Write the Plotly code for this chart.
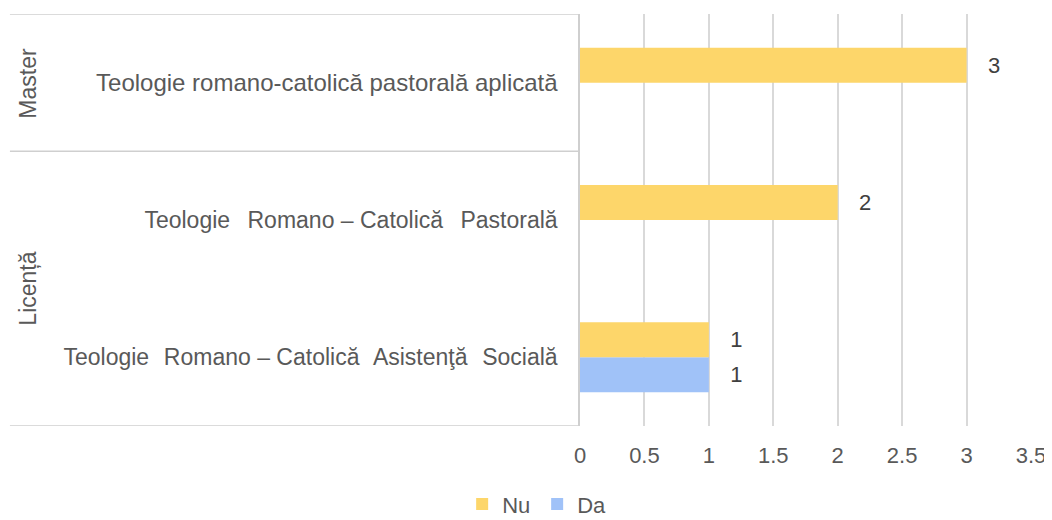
import plotly.graph_objects as go

# categories bottom -> top
programs = [
    "Teologie Romano – Catolică Asistenţă Socială",
    "Teologie Romano – Catolică Pastorală",
    "Teologie romano-catolică pastorală aplicată",
]
# tick texts (justified spacing as in the source chart)
program_labels = [
    "Teologie\u00a0\u200a Romano – Catolică\u00a0\u200a Asistenţă\u00a0\u200a Socială",
    "Teologie\u00a0\u2009 Romano – Catolică\u00a0\u2009 Pastorală",
    "<span style='font-size:24px'>Teologie romano-catolică pastorală aplicată</span>",
]
levels = ["Licență", "Master"]
nu_vals = [1, 2, 3]
da_vals = [1, None, None]
x_ticks = [0, 0.5, 1, 1.5, 2, 2.5, 3, 3.5]

FONT = "Liberation Sans, Arial, sans-serif"
GRID = "#d9d9d9"
TXT = "#595959"

fig = go.Figure()

# Da first so that Nu sits above it in each group
fig.add_trace(go.Bar(
    y=programs, x=da_vals, name="Da", orientation="h",
    marker=dict(color="#A0C2F8", line=dict(width=0)),
    text=[f"\u00a0\u00a0\u00a0{v}" if v is not None else "" for v in da_vals],
    textposition="outside", constraintext="none", cliponaxis=False,
    textfont=dict(size=22, color="#404040", family=FONT),
))
fig.add_trace(go.Bar(
    y=programs, x=nu_vals, name="Nu", orientation="h",
    marker=dict(color="#FDD66A", line=dict(width=0)),
    text=[f"\u00a0\u00a0\u00a0{v}" for v in nu_vals],
    textposition="outside", constraintext="none", cliponaxis=False,
    textfont=dict(size=22, color="#404040", family=FONT),
))

# box lines of the category area
line = dict(color="#cfcfcf", width=1.5)
for yv in [-0.5, 1.5, 2.5]:
    fig.add_shape(type="line", xref="paper", yref="y", x0=-1.264, x1=0,
                  y0=yv, y1=yv, line=line, layer="below")

# outer category labels
for lab, yv in zip(levels, [0.5, 2]):
    fig.add_annotation(text=lab, textangle=-90, xref="paper", yref="y",
                       x=-1.224, y=yv, xanchor="center", yanchor="middle",
                       showarrow=False,
                       font=dict(size=23, color=TXT, family=FONT))

# page body adds an 8px margin, so the figure is 8px smaller
fig.update_layout(
    width=1044, height=512,
    margin=dict(l=572, r=21, t=6, b=94, autoexpand=False),
    paper_bgcolor="white", plot_bgcolor="white",
    barmode="group", bargap=0.49, bargroupgap=0,
    font=dict(family=FONT, color=TXT, size=22),
    showlegend=True,
    legend=dict(orientation="h", x=-0.095, xanchor="center", y=-0.19,
                yanchor="middle", traceorder="reversed",
                entrywidth=30, entrywidthmode="pixels",
                font=dict(size=22, color=TXT, family=FONT)),
    xaxis=dict(range=[0, 3.5], tickvals=x_ticks, ticktext=[f"{t:g}" for t in x_ticks],
               showgrid=True, gridcolor=GRID, gridwidth=1.5, zeroline=False,
               showline=False, ticks="outside", ticklen=10, tickcolor="rgba(0,0,0,0)",
               automargin=False,
               tickfont=dict(size=22, color=TXT, family=FONT)),
    yaxis=dict(range=[-0.5, 2.5], tickvals=programs, ticktext=program_labels,
               showgrid=False, zeroline=False,
               showline=True, linecolor="#cfcfcf", linewidth=1.5,
               ticks="outside", ticklen=16, tickcolor="rgba(0,0,0,0)",
               automargin=False,
               tickfont=dict(size=23, color=TXT, family=FONT)),
)

fig.write_html("out.html")
